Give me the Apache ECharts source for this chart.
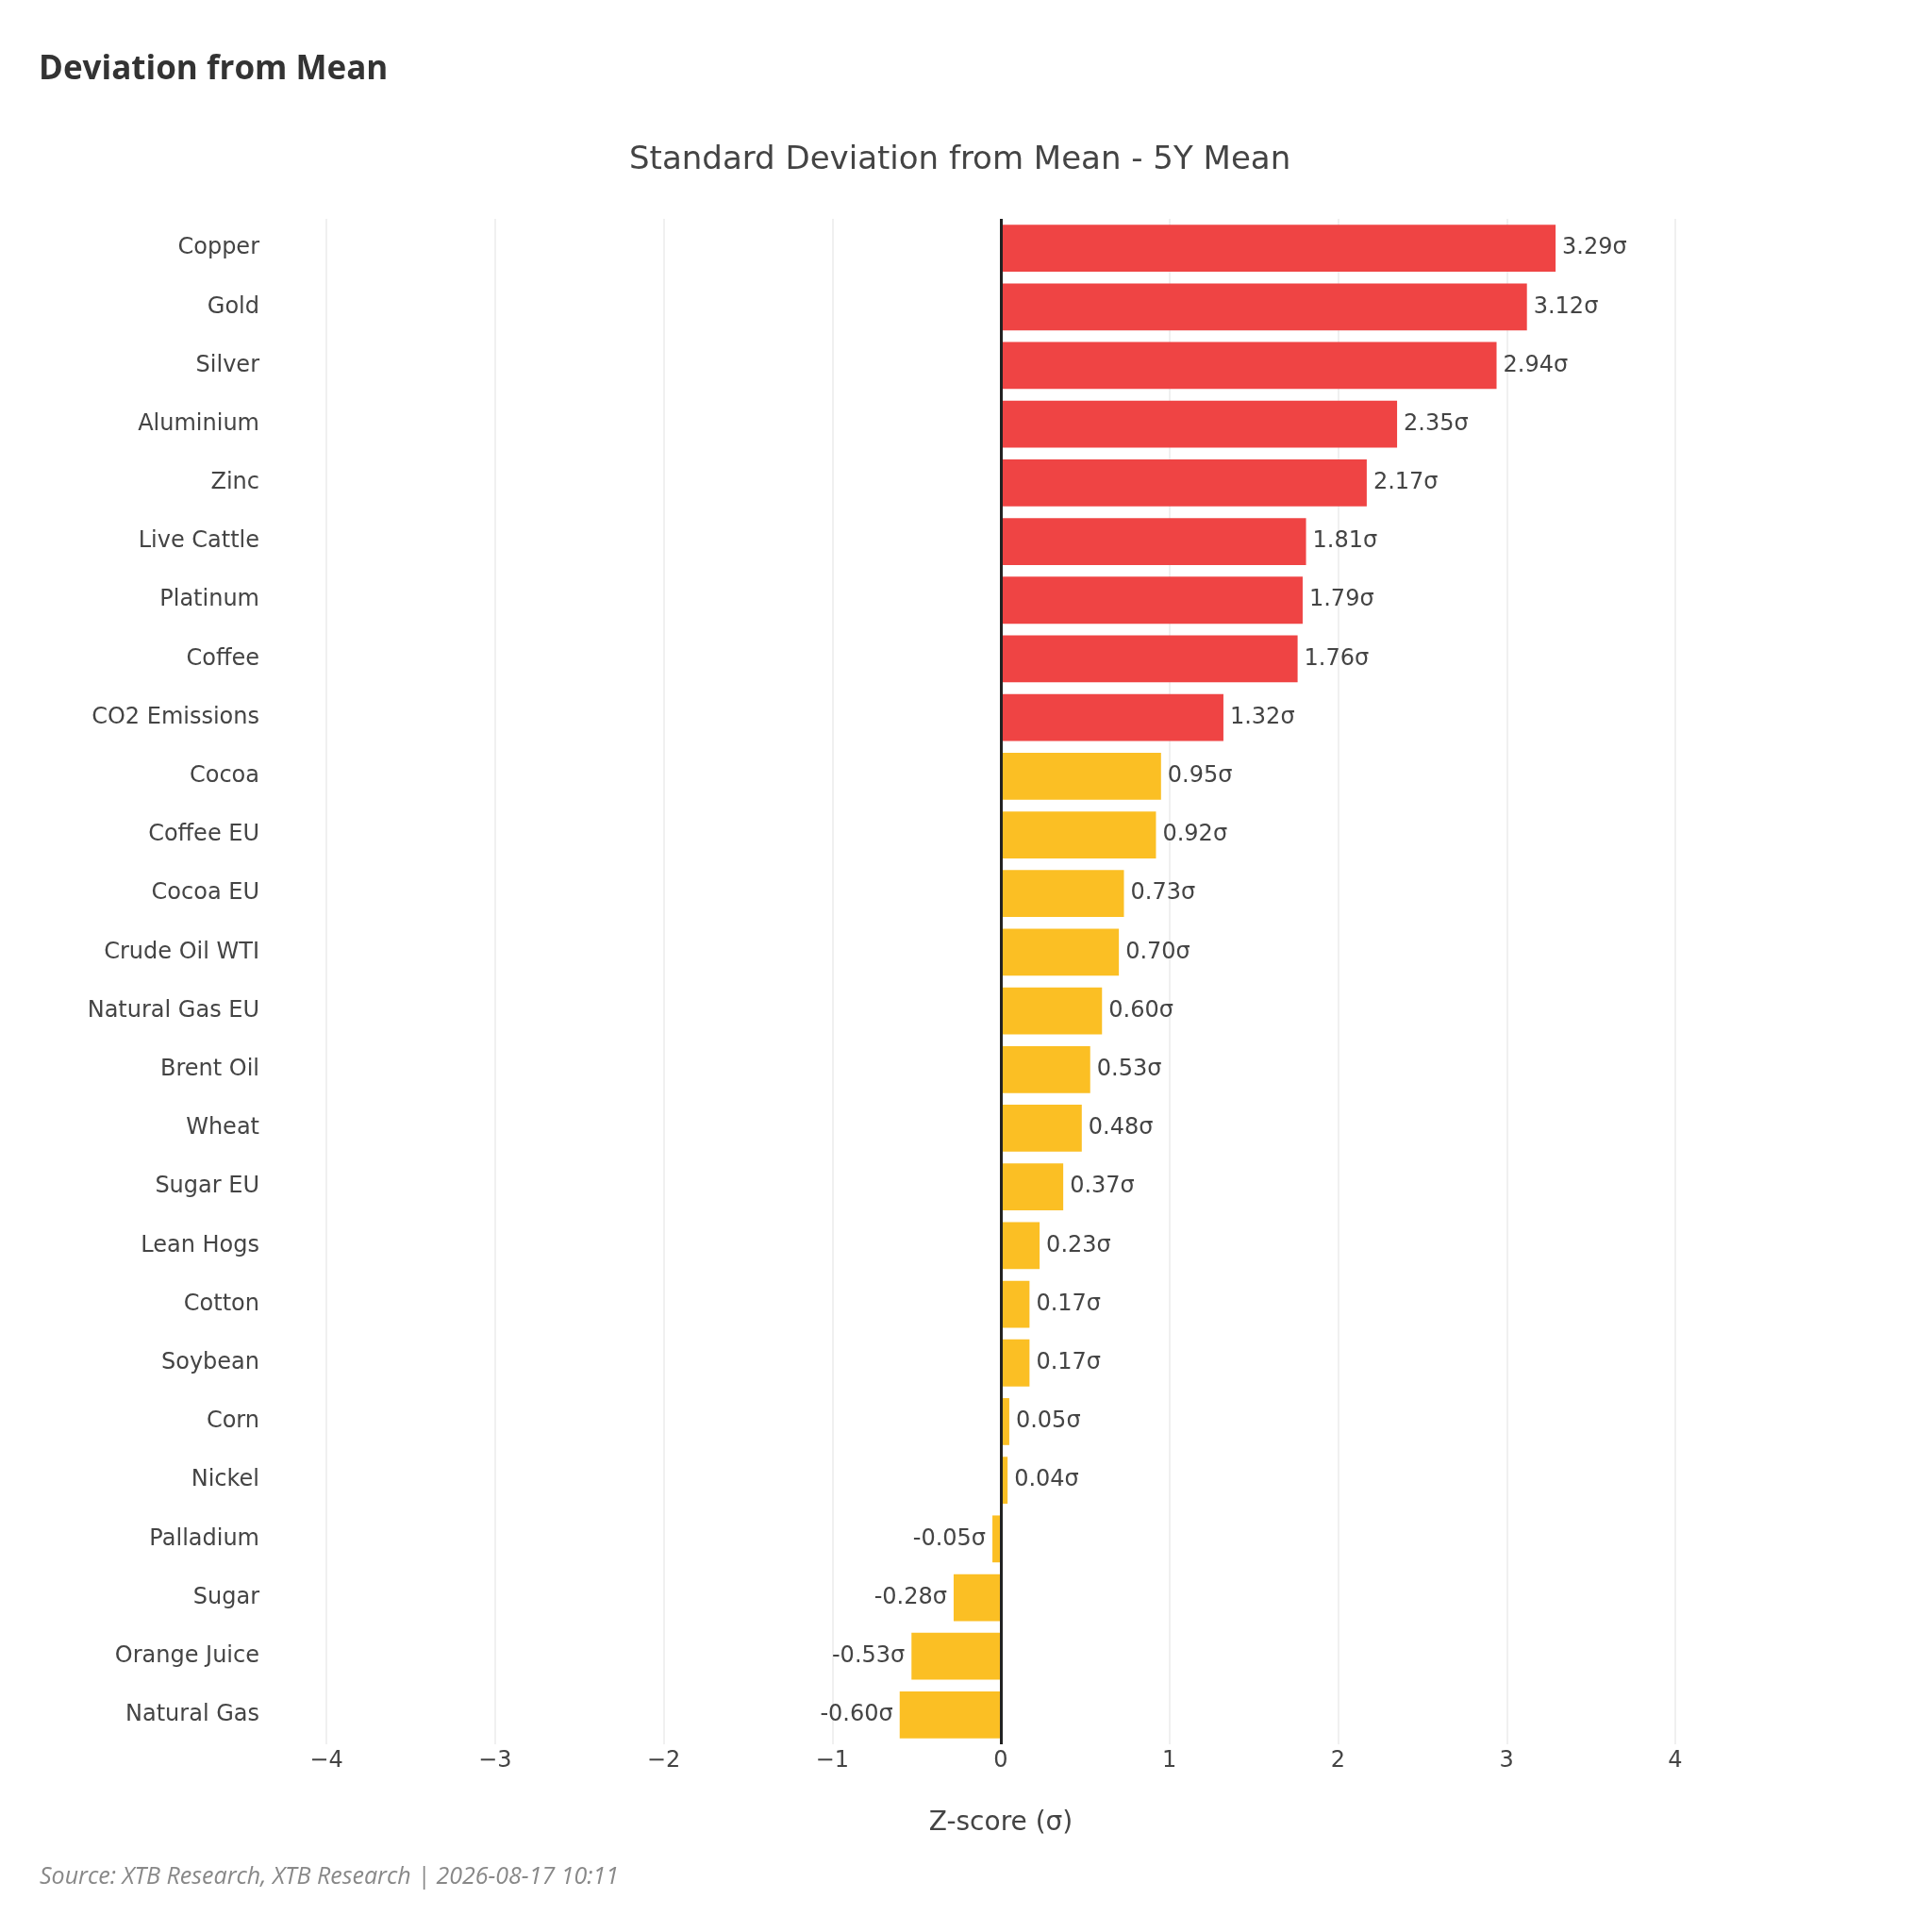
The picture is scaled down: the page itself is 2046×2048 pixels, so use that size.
<!DOCTYPE html>
<html>
<head>
<meta charset="utf-8">
<script src="https://cdn.jsdelivr.net/npm/echarts@6/dist/echarts.min.js"></script>
<style>
  html, body { margin: 0; padding: 0; background: #fff; }
  #chart { width: 2046px; height: 2048px; }
</style>
</head>
<body>
<div id="chart"></div>
<script>
const categories = [
  'Copper', 'Gold', 'Silver', 'Aluminium', 'Zinc', 'Live Cattle', 'Platinum',
  'Coffee', 'CO2 Emissions', 'Cocoa', 'Coffee EU', 'Cocoa EU', 'Crude Oil WTI',
  'Natural Gas EU', 'Brent Oil', 'Wheat', 'Sugar EU', 'Lean Hogs', 'Cotton',
  'Soybean', 'Corn', 'Nickel', 'Palladium', 'Sugar', 'Orange Juice', 'Natural Gas'
];
const zScores = [
  3.29, 3.12, 2.94, 2.35, 2.17, 1.81, 1.79,
  1.76, 1.32, 0.95, 0.92, 0.73, 0.70,
  0.60, 0.53, 0.48, 0.37, 0.23, 0.17,
  0.17, 0.05, 0.04, -0.05, -0.28, -0.53, -0.60
];
const xTicks = [-4, -3, -2, -1, 0, 1, 2, 3, 4];

const RED = '#EF4444';
const YELLOW = '#FBBF24';
const PAGE_FONT = '"Open Sans", "Noto Sans", sans-serif';
const PLOT_FONT = '"DejaVu Sans", Verdana, sans-serif';

const chart = echarts.init(document.getElementById('chart'));

// red for anything above 1σ, yellow otherwise
const barData = zScores.map(function (v) {
  return {
    value: v,
    itemStyle: { color: v > 1 ? RED : YELLOW },
    label: { position: v < 0 ? 'left' : 'right' }
  };
});

chart.setOption({
  backgroundColor: '#fff',
  textStyle: { fontFamily: PLOT_FONT },
  title: [
    {
      text: 'Deviation from Mean',
      left: 36,
      top: 52,
      textStyle: { fontSize: 35, fontWeight: 'bold', color: '#333', fontFamily: PAGE_FONT }
    },
    {
      text: 'Standard Deviation from Mean - 5Y Mean',
      left: 662,
      top: 148,
      textStyle: { fontSize: 34, fontWeight: 'normal', color: '#444', fontFamily: PLOT_FONT }
    },
    {
      text: 'Source: XTB Research, XTB Research | 2026-08-17 10:11',
      left: 37,
      top: 1972,
      textStyle: { fontSize: 25, fontWeight: 'normal', fontStyle: 'italic', color: '#888', fontFamily: PAGE_FONT }
    }
  ],
  grid: { left: 346, right: 270, top: 232, bottom: 199 },
  xAxis: {
    type: 'value',
    min: xTicks[0],
    max: xTicks[xTicks.length - 1],
    interval: 1,
    name: 'Z-score (σ)',
    nameLocation: 'middle',
    nameGap: 70,
    nameTextStyle: { fontSize: 28, color: '#444', fontFamily: PLOT_FONT },
    axisLine: { show: false },
    axisTick: { show: false },
    axisLabel: {
      fontSize: 24,
      color: '#444',
      margin: 6,
      formatter: function (v) { return String(v).replace('-', '\u2212'); }
    },
    splitLine: { show: true, lineStyle: { color: '#ebebeb', width: 1.5 } }
  },
  yAxis: {
    type: 'category',
    data: categories,
    inverse: true,
    axisLine: { show: false, onZero: false },
    axisTick: { show: false },
    axisLabel: { fontSize: 24, color: '#444', margin: 71 },
    splitLine: { show: false }
  },
  series: [
    {
      type: 'bar',
      data: barData,
      barCategoryGap: '20%',
      label: {
        show: true,
        distance: 7,
        fontSize: 24,
        color: '#444',
        formatter: function (p) { return p.value.toFixed(2) + 'σ'; }
      },
      markLine: {
        silent: true,
        symbol: 'none',
        label: { show: false },
        lineStyle: { color: '#222', width: 3, type: 'solid' },
        data: [{ xAxis: 0 }]
      }
    }
  ]
});
</script>
</body>
</html>
